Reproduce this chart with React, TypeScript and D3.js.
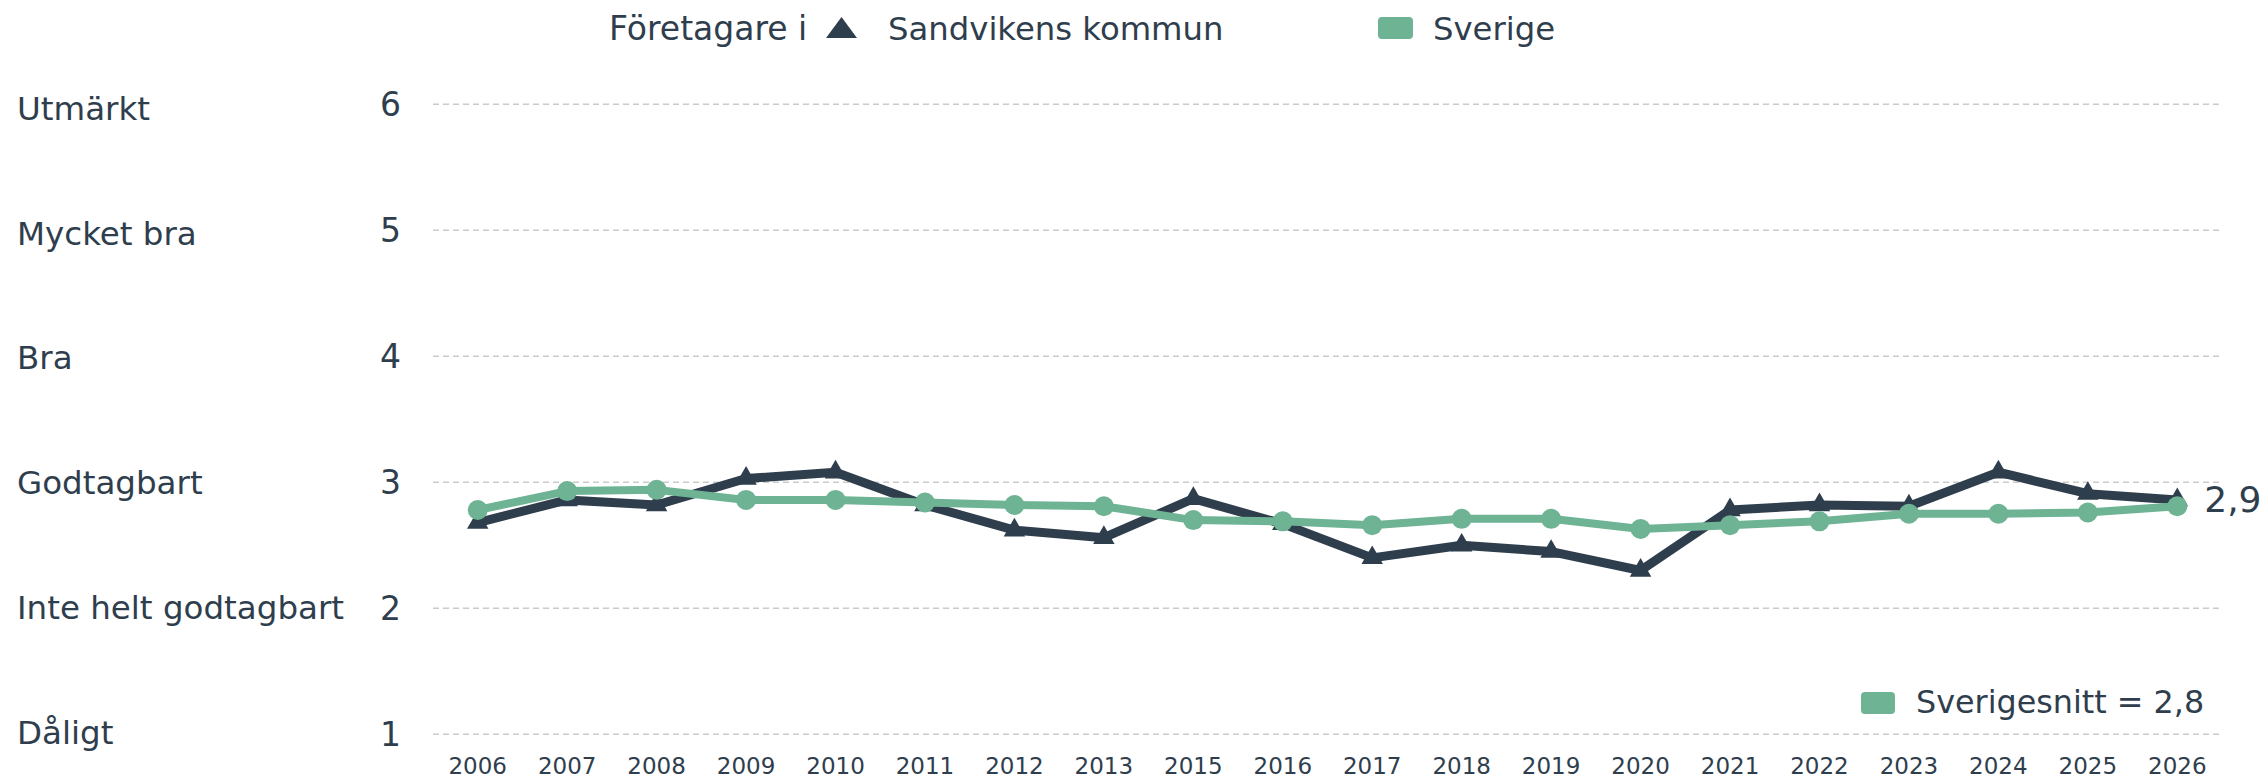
import React, { useEffect, useRef } from 'react';
import * as d3 from 'd3';

const years = [
  '2006', '2007', '2008', '2009', '2010', '2011', '2012', '2013', '2015', '2016',
  '2017', '2018', '2019', '2020', '2021', '2022', '2023', '2024', '2025', '2026',
];
const sandviken = [
  2.68, 2.86, 2.82, 3.03, 3.08, 2.82, 2.62, 2.56, 2.87, 2.67,
  2.40, 2.50, 2.45, 2.30, 2.78, 2.82, 2.81, 3.08, 2.91, 2.86,
];
const sverige = [
  2.78, 2.93, 2.94, 2.86, 2.86, 2.84, 2.82, 2.81, 2.70, 2.69,
  2.66, 2.71, 2.71, 2.63, 2.66, 2.69, 2.75, 2.75, 2.76, 2.81,
];
const yTicks = [1, 2, 3, 4, 5, 6];
const yLabels = ['Dåligt', 'Inte helt godtagbart', 'Godtagbart', 'Bra', 'Mycket bra', 'Utmärkt'];
const lastLabel = '2,9';
const averageLabel = 'Sverigesnitt = 2,8';

const WIDTH = 2265;
const HEIGHT = 779;
const DARK = '#2f3e4d';
const GREEN = '#6fb395';
const FONT = '"DejaVu Sans", sans-serif';

const App: React.FC = () => {
  const svgRef = useRef<SVGSVGElement | null>(null);

  useEffect(() => {
    if (!svgRef.current) return;
    const svg = d3.select(svgRef.current);
    svg.selectAll('*').remove();

    const x = d3.scalePoint<string>().domain(years).range([433, 2222]).padding(0.5);
    const y = d3.scaleLinear().domain([1, 6]).range([734.3, 104.3]);

    // Gridlines
    svg.append('g')
      .selectAll('line')
      .data(yTicks)
      .enter()
      .append('line')
      .attr('x1', 433)
      .attr('x2', 2222)
      .attr('y1', d => y(d))
      .attr('y2', d => y(d))
      .attr('stroke', '#cbcbcb')
      .attr('stroke-width', 1.5)
      .attr('stroke-dasharray', '6,4');

    // Y tick numbers
    svg.append('g')
      .selectAll('text')
      .data(yTicks)
      .enter()
      .append('text')
      .attr('x', 401)
      .attr('y', d => y(d) + 12)
      .attr('text-anchor', 'end')
      .attr('fill', DARK)
      .attr('font-family', FONT)
      .attr('font-size', 33)
      .text(d => d);

    // Y category labels (slightly uneven spacing in the original)
    svg.append('g')
      .selectAll('text')
      .data(yTicks)
      .enter()
      .append('text')
      .attr('x', 17)
      .attr('y', (d, i) => y(d) + 9.5 + i * 1.2)
      .attr('fill', DARK)
      .attr('font-family', FONT)
      .attr('font-size', 32.5)
      .text((d, i) => yLabels[i]);

    // X labels
    svg.append('g')
      .selectAll('text')
      .data(years)
      .enter()
      .append('text')
      .attr('x', d => x(d) || 0)
      .attr('y', 774)
      .attr('text-anchor', 'middle')
      .attr('fill', DARK)
      .attr('font-family', FONT)
      .attr('font-size', 23)
      .text(d => d);

    const line = d3.line<number>()
      .x((d, i) => x(years[i]) || 0)
      .y(d => y(d));

    // Sandviken line + triangles
    svg.append('path')
      .attr('d', line(sandviken) || '')
      .attr('fill', 'none')
      .attr('stroke', DARK)
      .attr('stroke-width', 9)
      .attr('stroke-linejoin', 'round');
    const tri = d3.symbol().type(d3.symbolTriangle).size(200)();
    svg.append('g')
      .selectAll('path')
      .data(sandviken)
      .enter()
      .append('path')
      .attr('d', tri)
      .attr('transform', (d, i) => `translate(${x(years[i])},${y(d)})`)
      .attr('fill', DARK);

    // Sverige line + circles
    svg.append('path')
      .attr('d', line(sverige) || '')
      .attr('fill', 'none')
      .attr('stroke', GREEN)
      .attr('stroke-width', 8)
      .attr('stroke-linejoin', 'round');
    svg.append('g')
      .selectAll('circle')
      .data(sverige)
      .enter()
      .append('circle')
      .attr('cx', (d, i) => x(years[i]) || 0)
      .attr('cy', d => y(d))
      .attr('r', 10)
      .attr('fill', GREEN);

    // Last value label
    const lastIdx = years.length - 1;
    svg.append('text')
      .attr('x', (x(years[lastIdx]) || 0) + 27)
      .attr('y', 512)
      .attr('fill', DARK)
      .attr('font-family', FONT)
      .attr('font-size', 36)
      .attr('font-weight', 500)
      .text(lastLabel);

    // Top legend
    const legend = svg.append('g');
    legend.append('text')
      .attr('x', 609)
      .attr('y', 40)
      .attr('fill', DARK)
      .attr('font-family', FONT)
      .attr('font-size', 33)
      .text('Företagare i');
    legend.append('path')
      .attr('d', 'M826,38 L857,38 L841.5,17 Z')
      .attr('fill', DARK);
    legend.append('text')
      .attr('x', 888)
      .attr('y', 40)
      .attr('fill', DARK)
      .attr('font-family', FONT)
      .attr('font-size', 32.3)
      .text('Sandvikens kommun');
    legend.append('rect')
      .attr('x', 1378)
      .attr('y', 17)
      .attr('width', 35)
      .attr('height', 22)
      .attr('rx', 4)
      .attr('fill', GREEN);
    legend.append('text')
      .attr('x', 1433)
      .attr('y', 40)
      .attr('fill', DARK)
      .attr('font-family', FONT)
      .attr('font-size', 32.3)
      .text('Sverige');

    // Average legend
    svg.append('rect')
      .attr('x', 1861)
      .attr('y', 692)
      .attr('width', 34)
      .attr('height', 22)
      .attr('rx', 4)
      .attr('fill', GREEN);
    svg.append('text')
      .attr('x', 1916)
      .attr('y', 713)
      .attr('fill', DARK)
      .attr('font-family', FONT)
      .attr('font-size', 31.8)
      .text(averageLabel);
  }, []);

  return (
    <div style={{ position: 'absolute', left: 0, top: 0, width: WIDTH, height: HEIGHT, background: '#fff' }}>
      <svg ref={svgRef} width={WIDTH} height={HEIGHT} style={{ display: 'block' }} />
    </div>
  );
};

export default App;
